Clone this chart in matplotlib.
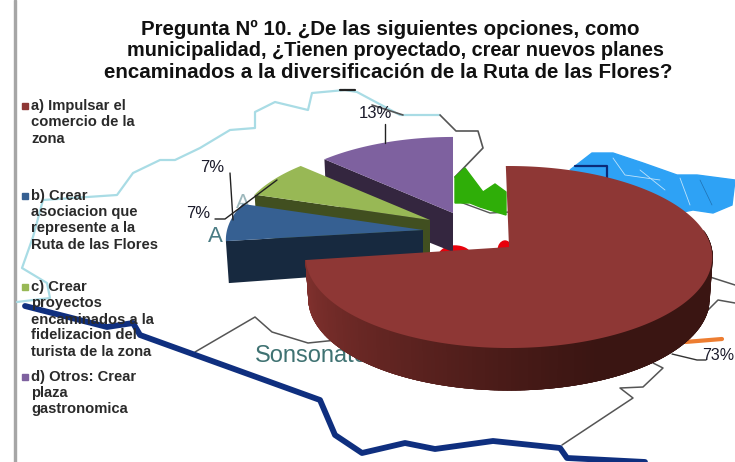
import numpy as np
import matplotlib
matplotlib.use("Agg")
import matplotlib.pyplot as plt
from matplotlib.patches import Polygon, Ellipse, Rectangle
from matplotlib.colors import to_rgb

plt.rcParams['font.family'] = ['Liberation Sans', 'DejaVu Sans']

# --- data ---
title_lines = ["Pregunta Nº 10. ¿De las siguientes opciones, como",
               "municipalidad, ¿Tienen proyectado, crear nuevos planes",
               "encaminados a la diversificación de la Ruta de las Flores?"]
categories = [["a) Impulsar el", "comercio de la", "zona"],
              ["b) Crear", "asociacion que", "represente a la", "Ruta de las Flores"],
              ["c) Crear", "proyectos", "encaminados a la", "fidelizacion del", "turista de la zona"],
              ["d) Otros: Crear", "plaza", "gastronomica"]]
values = [73, 7, 7, 13]
labels = ["73%", "7%", "7%", "13%"]
top_colors = ["#8E3735", "#366092", "#98B855", "#7E619F"]
wall_colors = ["#4A1916", "#17293F", "#414F20", "#34263F"]

# --- styles and placement, in pixels ---
apexes = [(509, 247, 1.0, 1.0), (423, 230, 0.97, 0.0), (430, 220, 0.944, 0.0), (453, 213, 0.939, 0.0)]
R, A, P, DEPTH = 202, 89.9, 0.11, 42
legend_y = [[106, 122, 139], [196, 212, 228, 245], [287, 303, 320, 335, 352], [377, 393, 409]]
label_xy = [(722, 355), (198, 213), (212, 168), (375, 114)]
title_layout = [(390, 29, 14.8), (396, 50, 14.3), (388, 72, 14.8)]

fig = plt.figure(figsize=(7.35, 4.62), dpi=100, facecolor="white")
ax = fig.add_axes([0, 0, 1, 1])
ax.set_xlim(0, 735)
ax.set_ylim(462, 0)
ax.axis("off")


def project(theta, ax_x, ax_y, s, drop=0.0, shrink=1.0):
    u, v = np.cos(theta), np.sin(theta)
    d = 1 + P * v
    return ax_x + shrink * s * R * u / d, ax_y - s * A * v / d + drop


def line(pts, color, lw, z=1, **kw):
    p = np.array(pts)
    ax.plot(p[:, 0], p[:, 1], color=color, lw=lw, zorder=z,
            solid_joinstyle="round", solid_capstyle="round", **kw)


# --- background map ---
ax.add_patch(Rectangle((14, 0), 2, 462, color="#A6A6A6", zorder=1))
line([(17, 302), (50, 298), (47, 283), (22, 268), (33, 237), (43, 200), (117, 195), (133, 173),
      (160, 160), (175, 160), (200, 148), (230, 130), (255, 128), (255, 112), (275, 102),
      (308, 110), (312, 93), (345, 90), (357, 92), (400, 115), (440, 115)], "#A9DCE5", 1.6)
line([(340, 90), (355, 90)], "#222222", 1.6, 2)
gray = "#555555"
line([(372, 105), (403, 115)], gray, 1.2)
line([(440, 115), (456, 131), (478, 131), (483, 148), (455, 177)], gray, 1.2)
line([(460, 202), (490, 213), (510, 212)], gray, 1.0)
line([(195, 352), (255, 317), (272, 332), (308, 343), (337, 340)], gray, 1.1)
line([(710, 277), (735, 285)], gray, 1.1)
line([(700, 318), (718, 300), (735, 303)], gray, 1.1)
line([(653, 363), (663, 368), (643, 387), (620, 388), (633, 398), (562, 445)], gray, 1.1)
line([(685, 342), (722, 339)], "#ED7D31", 3)
line([(25, 306), (107, 327), (133, 323), (140, 335), (320, 400), (335, 435), (362, 453),
      (405, 443), (435, 449), (493, 441), (560, 448), (567, 458), (645, 462)], "#0F2F7F", 4.2, 3)
ax.add_patch(Polygon([(455, 177), (465, 168), (483, 192), (495, 184), (506, 192), (506, 215),
                      (480, 207), (470, 203), (455, 203)], color="#2FAE08", zorder=2))
ax.add_patch(Polygon([(592, 153), (613, 153), (643, 163), (677, 175), (697, 175), (735, 180),
                      (732, 205), (713, 213), (693, 210), (683, 212), (660, 197), (637, 187),
                      (570, 170)], color="#2EA2F5", zorder=2))
line([(613, 158), (625, 175), (660, 180)], "#BFE3FB", 0.6, 2)
line([(680, 178), (690, 205)], "#BFE3FB", 0.6, 2)
line([(640, 170), (665, 190)], "#BFE3FB", 0.6, 2)
line([(700, 180), (712, 205)], "#1F6FB0", 0.5, 2)
line([(575, 166), (607, 166), (607, 182)], "#0B2A78", 1.6, 3)
ax.add_patch(Ellipse((455, 256), 32, 20, color="#E8000B", zorder=2))
ax.add_patch(Ellipse((505, 251), 14, 20, color="#E8000B", zorder=2))
ax.text(215, 236, "A", color="#4A7C84", fontsize=16, ha="center", va="center", zorder=2)
ax.text(243, 203, "A", color="#9DB8BC", fontsize=15, ha="center", va="center", zorder=2)
ax.text(255, 362, "Sonsonate", color="#3F7272", fontsize=17, ha="left", va="baseline", zorder=2)

# --- exploded 3-D pie: angles come from the values ---
fractions = np.array(values) / sum(values)
edges = 90 - np.concatenate([[0], np.cumsum(fractions) * 360])
draw_order = [3, 2, 1, 0]
z = 5
for i in draw_order:
    ax_x, ax_y, s, rot = apexes[i]
    t0, t1 = np.radians(edges[i] + rot), np.radians(edges[i + 1] + rot)
    thetas = np.linspace(t0, t1, 240)
    tx, ty = project(thetas, ax_x, ax_y, s)
    bx, by = project(thetas, ax_x, ax_y, s, DEPTH, 0.985)
    if i == 0:
        # outer rim with left-to-right shading; overlapping bands hide the seams
        light, dark = np.array(to_rgb("#7F302D")), np.array(to_rgb("#3A1512"))
        order = np.argsort(tx)
        for n, k in enumerate(order[:-4]):
            if np.sin(thetas[k]) > 0.2:
                continue
            f = np.clip((tx[k] - 312) / 300, 0, 1) ** 0.7
            c = light * (1 - f) + dark * f
            j = min(k + 4, len(thetas) - 1)
            ax.add_patch(Polygon([(tx[k], ty[k]), (tx[j], ty[j]), (bx[j], by[j]), (bx[k], by[k])],
                                 facecolor=c, edgecolor=c, lw=0.8, zorder=z))
    else:
        # cut face toward the viewer, along the slice's first radius
        ax.add_patch(Polygon([(ax_x, ax_y), (tx[0], ty[0]), (bx[0], by[0]), (ax_x, ax_y + DEPTH - 3)],
                             facecolor=wall_colors[i], edgecolor="none", zorder=z))
    ax.add_patch(Polygon(np.vstack([[ax_x, ax_y], np.column_stack([tx, ty])]),
                         facecolor=top_colors[i], edgecolor="none", zorder=z + 0.5))
    z += 1

# --- value labels and leaders ---
for (x, y), lab in zip(label_xy[1:], labels[1:]):
    ax.text(x, y, lab, fontsize=12, color="#1B1B2B", ha="center", va="center", zorder=12)
ax.text(734, label_xy[0][1], labels[0], fontsize=11.5, color="#1B1B2B", ha="right", va="center", zorder=12)
line([(385, 143), (385, 124)], "#222222", 1, 11)
line([(230, 173), (233, 220)], "#222222", 1, 11)
line([(215, 219), (225, 219), (277, 180)], "#222222", 1, 11)
line([(672, 354), (697, 360), (706, 360)], "#333333", 1, 4)

# --- title ---
for (x, y, fs), t in zip(title_layout, title_lines):
    ax.text(x, y, t, fontsize=fs, fontweight="bold", color="#111111",
            ha="center", va="center", zorder=12)

# --- legend ---
for cat, ys, col in zip(categories, legend_y, top_colors):
    ax.add_patch(Rectangle((22, ys[0] - 3), 6, 6, color=col, zorder=12))
    for t, y in zip(cat, ys):
        ax.text(31, y, t, fontsize=10.6, fontweight="bold", color="#2A2A2A",
                ha="left", va="center", zorder=12)

fig.savefig("out.png", dpi=100)
